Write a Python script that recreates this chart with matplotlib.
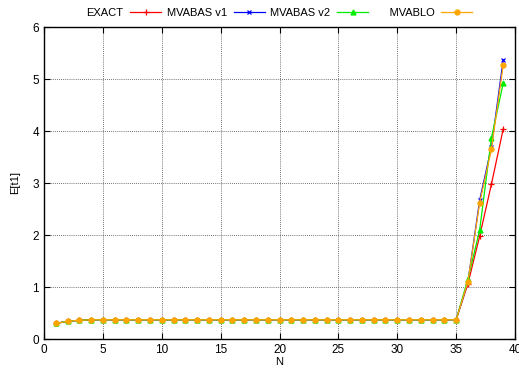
import matplotlib.pyplot as plt
import numpy as np

plt.rcParams['font.family'] = ['Liberation Sans', 'DejaVu Sans']

N = np.arange(1, 40)
flat = [0.30, 0.34, 0.36] + [0.37] * 32

exact = flat + [1.06, 1.98, 2.98, 4.04]
mvabas_v1 = flat + [1.10, 2.67, 3.70, 5.37]
mvabas_v2 = flat + [1.15, 2.10, 3.87, 4.92]
mvablo = flat + [1.10, 2.62, 3.65, 5.27]

fig = plt.figure(figsize=(5.19, 3.76), dpi=100)
ax = fig.add_axes([44 / 519, 1 - 339 / 376, 471 / 519, 312 / 376])

ax.plot(N, exact, color='red', marker='+', ms=4, mew=0.9, lw=0.9, label='EXACT')
ax.plot(N, mvabas_v1, color='blue', marker='x', ms=3.5, mew=0.9, lw=0.9, label='MVABAS v1')
ax.plot(N, mvabas_v2, color='#00ee00', marker='^', ms=3.5, lw=0.9, label='MVABAS v2')
ax.plot(N, mvablo, color='orange', marker='o', ms=3.5, lw=0.9, label='     MVABLO')

ax.set_xlim(0, 40)
ax.set_ylim(0, 6)
ax.set_xticks(range(0, 41, 5))
ax.set_yticks(range(0, 7))
ax.grid(True, color='#444444', linestyle=(0, (1, 1.5)), lw=0.6)
ax.tick_params(direction='in', top=True, right=True, labelsize=8.5, length=4)
for s in ax.spines.values():
    s.set_linewidth(1)
ax.set_xlabel('N', fontsize=8, labelpad=1)
ax.set_ylabel('E[t1]', fontsize=8, labelpad=9)

ax.legend(loc='lower center', bbox_to_anchor=(0.5, 1.0), ncol=4, frameon=False,
          markerfirst=False, fontsize=8, handlelength=2.8, columnspacing=0.5,
          handletextpad=0.6, borderaxespad=0.4)

fig.savefig('out.png', dpi=100)
